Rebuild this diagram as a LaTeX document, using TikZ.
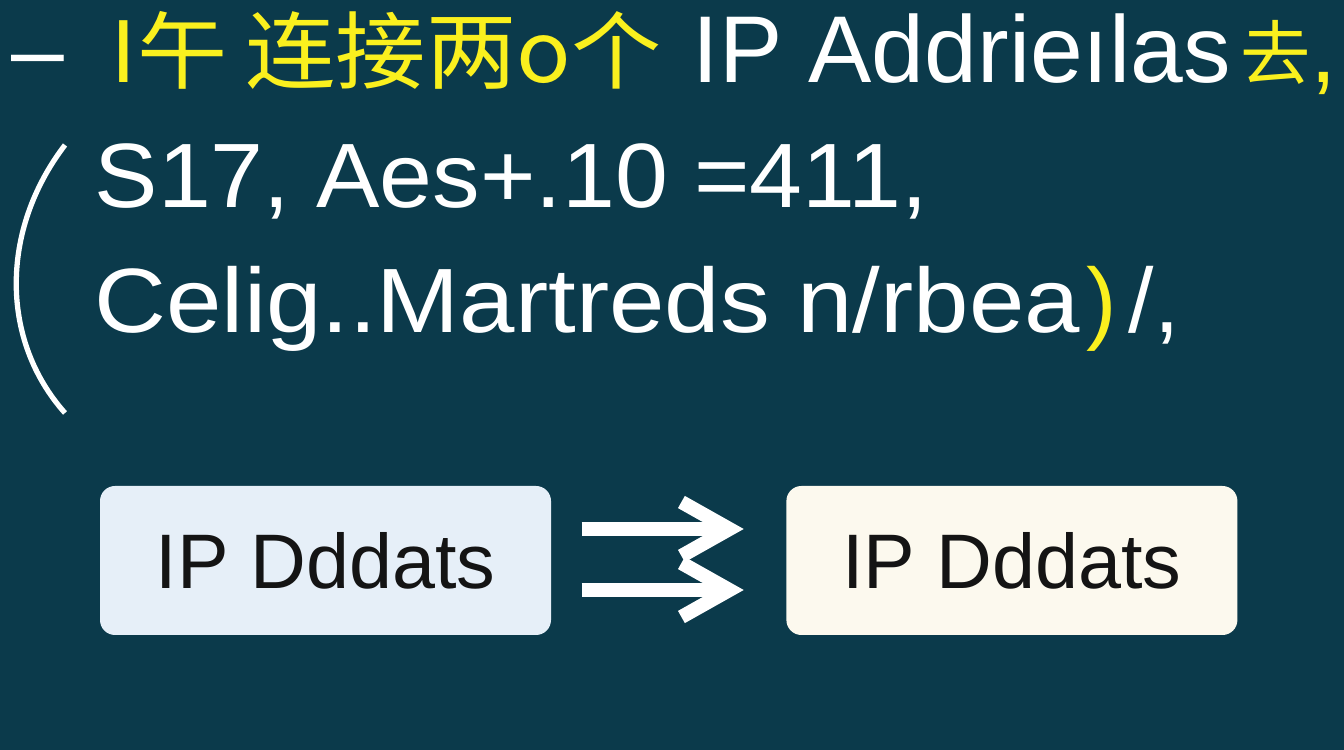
\documentclass[tikz,border=0pt]{standalone}
\usepackage{fontspec}
\setmainfont{Liberation Sans}
\newfontfamily\widesans[FakeStretch=1.09]{Liberation Sans}
\newfontfamily\cjk[FakeStretch=1.07]{Noto Sans CJK SC}
\newfontfamily\cjkplain{Noto Sans CJK SC}
\usetikzlibrary{arrows.meta, positioning}
\definecolor{bgteal}{HTML}{0B3A4B}
\definecolor{hiyellow}{HTML}{FAF01E}
\definecolor{boxblue}{HTML}{E6EFF8}
\definecolor{boxcream}{HTML}{FCF9EE}

\begin{document}
\begin{tikzpicture}[
 txt/.style = {inner sep=0, anchor=base west, text=white, font=\fontsize{26}{30}\selectfont},
 hi/.style = {txt, text=hiyellow, font=\cjk\fontsize{24}{28}\selectfont},
 ipbox/.style = {rounded corners=0.15cm, minimum width=4.51cm, minimum height=1.49cm, inner sep=0, font=\fontsize{22}{26}\selectfont, text=black!92},
 fwd/.style = {white, line width=0.14cm, -{Straight Barb[length=0.48cm, width=0.54cm]}, shorten <=0.30cm, shorten >=0.42cm}
]
 \fill[bgteal] (0,0) rectangle (13.44,7.5);
 \useasboundingbox (0,0) rectangle (13.44,7.5);

 \node[txt, font=\fontsize{27}{30}\selectfont] (dash) at (0.11, 6.67) {–};
 \node[hi] (t1) at (1.10, 6.67) {I午};
 \node[hi] (t2) at (2.45, 6.67) {连接两o个};
 \node[txt, font=\fontsize{27}{30}\selectfont] (t3) at (6.92, 6.67) {IP Addrieılas};
 \node[hi, font=\cjkplain\fontsize{20}{24}\selectfont] (t4) at (12.40, 6.70) {去};
 \node[txt, text=hiyellow, font=\fontsize{27}{30}\selectfont] (t5) at (13.10, 6.67) {,};

 \draw[white, line width=1.5pt] (0.65, 6.05) .. controls (0.0, 5.2) and (0.0, 4.1) .. (0.65, 3.37);
 \node[txt, font=\fontsize{26}{30}\selectfont\addfontfeatures{FakeStretch=1.04}] (l2) at (0.94, 5.42) {S17, Aes+.10 =411,};
 \node[txt, font=\widesans\fontsize{26}{30}\selectfont] (l3) at (0.94, 4.17) {Celig..Martreds n/rbea};
 \node[txt, text=hiyellow] (cp) at (10.86, 4.17) {)};
 \node[txt] (sl) at (11.28, 4.17) {/,};

 \node[ipbox, fill=boxblue] (lbox) at (3.255, 1.895) {IP Dddats};
 \node[ipbox, fill=boxcream, right=2.34cm of lbox] (rbox) {IP Dddats};
 \draw[fwd] ([yshift=0.315cm]lbox.east) -- ([yshift=0.315cm]rbox.west);
 \draw[fwd] ([yshift=-0.295cm]lbox.east) -- ([yshift=-0.295cm]rbox.west);
\end{tikzpicture}
\end{document}
